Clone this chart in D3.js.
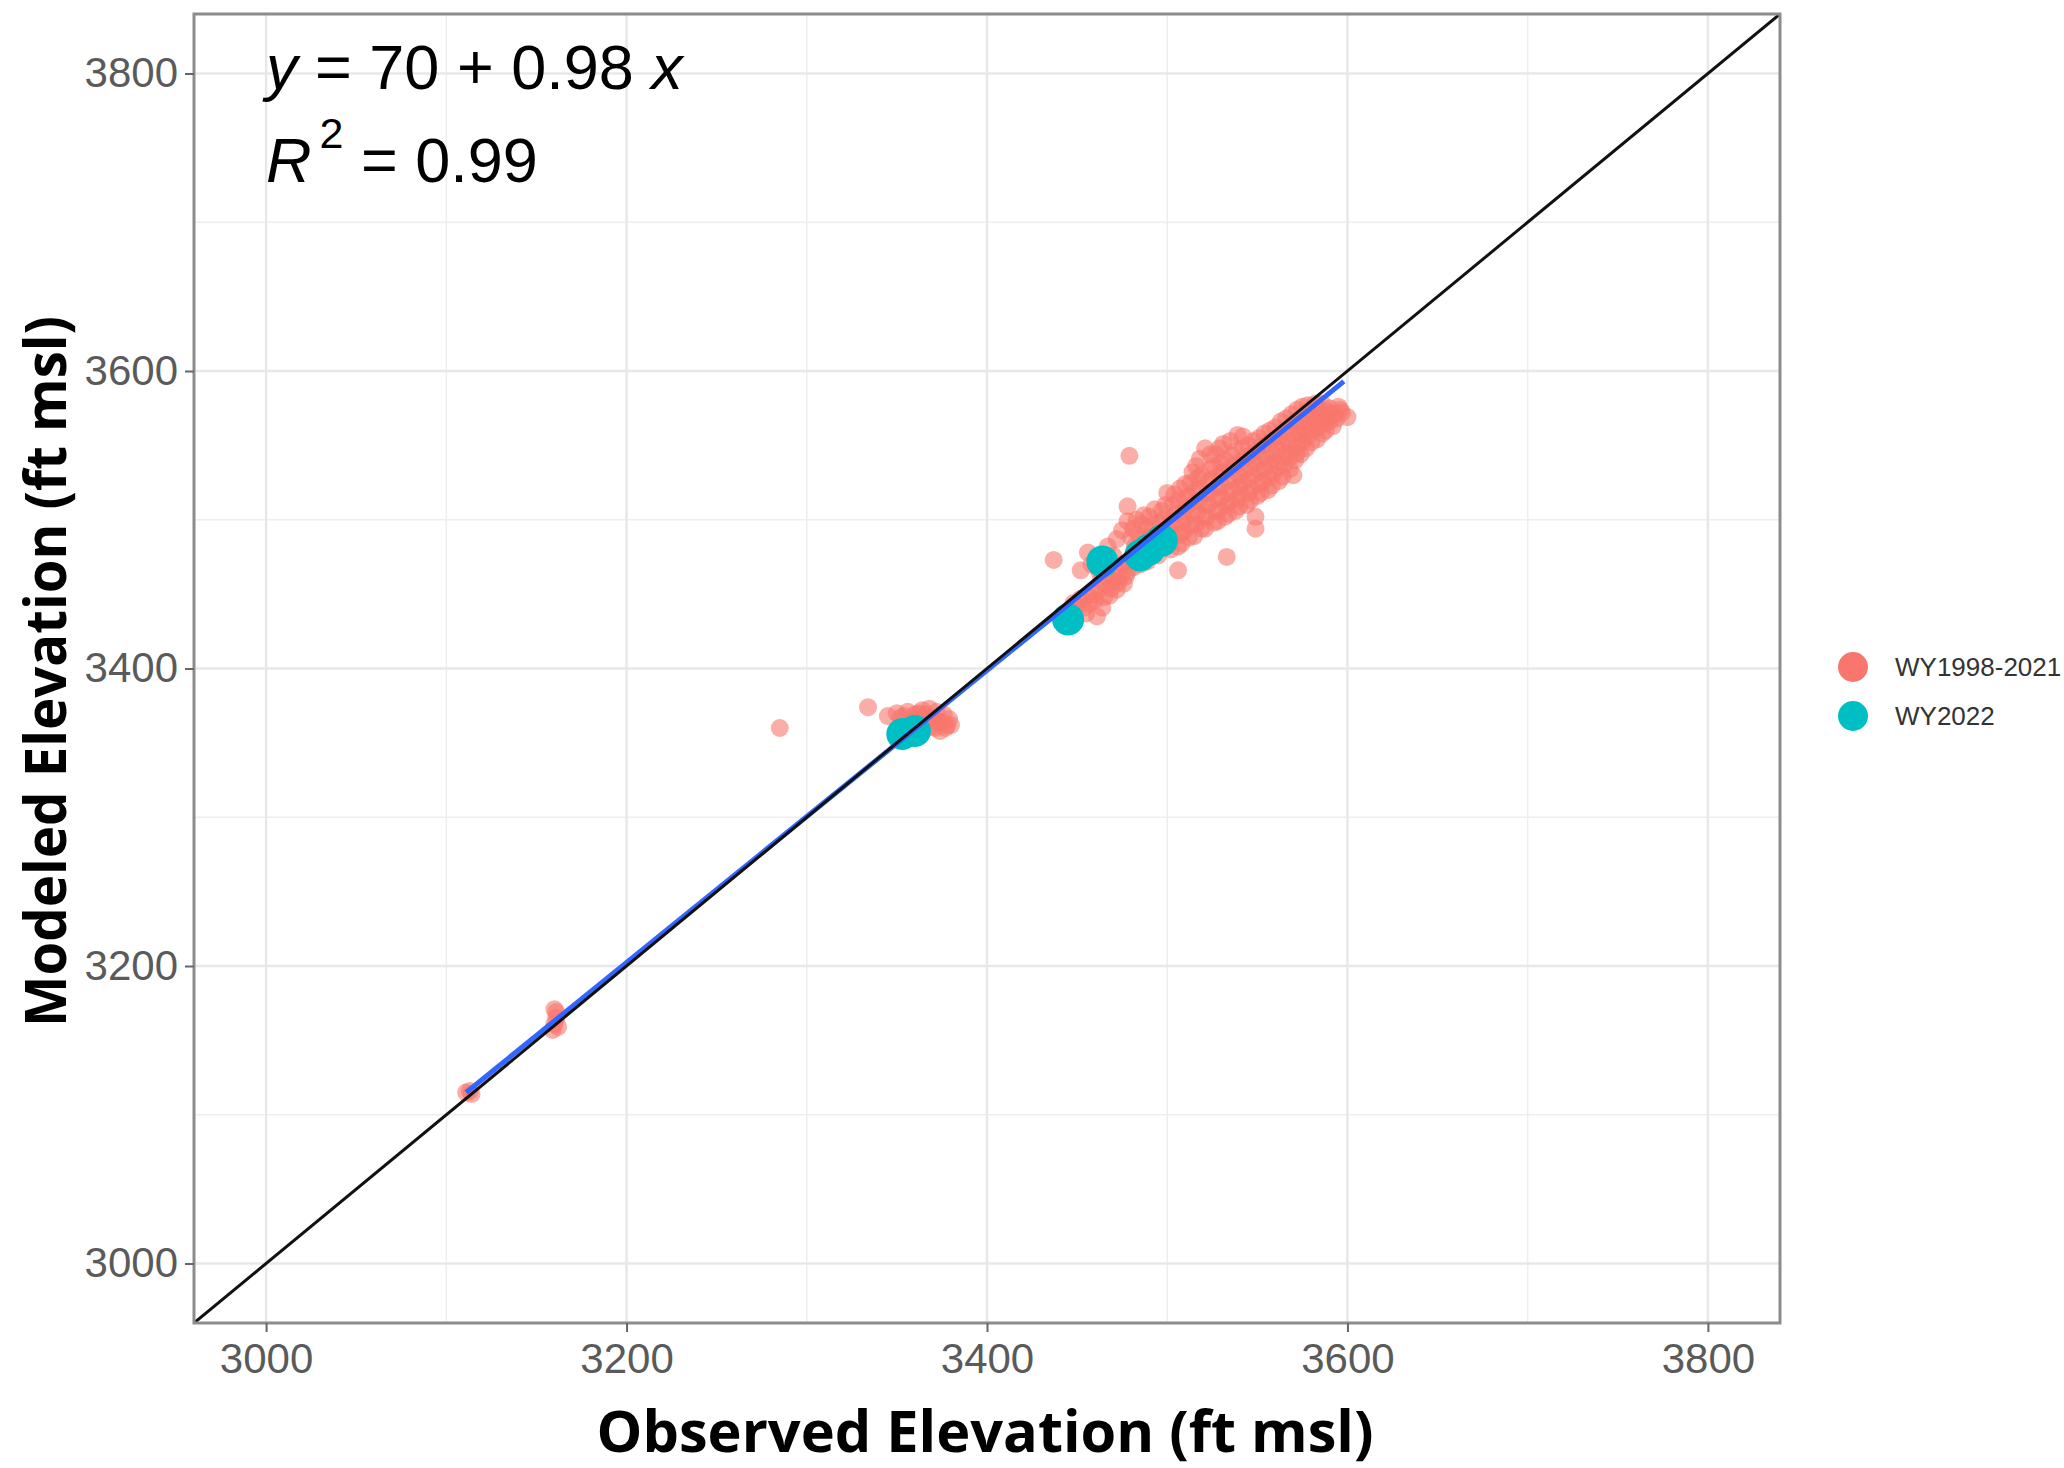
<!DOCTYPE html>
<html>
<head>
<meta charset="utf-8">
<script src="https://cdn.jsdelivr.net/npm/d3@7"></script>
<style>
  body { margin: 0; background: #fff; }
</style>
</head>
<body>
<div id="chart"></div>
<script>
// ---------------------------------------Data---------------------------------------
// [observed, modeled] elevation pairs (ft msl)
var wy9821 = [
  [3111, 3115], [3113, 3116], [3114, 3114],
  [3159, 3157], [3160, 3161], [3161, 3165], [3161, 3169], [3160, 3171], [3162, 3159],
  [3285, 3360], [3334, 3374], [3345, 3368],
  [3350, 3370], [3352, 3367], [3354, 3368], [3356, 3371], [3358, 3365], [3360, 3369],
  [3362, 3364], [3362, 3370], [3364, 3372], [3364, 3367], [3366, 3369], [3367, 3366],
  [3368, 3373], [3369, 3361], [3370, 3367], [3371, 3360], [3372, 3371], [3372, 3364],
  [3374, 3358], [3375, 3364], [3376, 3369], [3377, 3360], [3378, 3362], [3379, 3366],
  [3380, 3362],
  [3437, 3473], [3446, 3439], [3448, 3444], [3450, 3442], [3452, 3447], [3452, 3466],
  [3454, 3441], [3455, 3437], [3456, 3449], [3456, 3478], [3457, 3444], [3458, 3470],
  [3459, 3450], [3460, 3446], [3461, 3435], [3462, 3453], [3462, 3466], [3463, 3459],
  [3464, 3441], [3465, 3448], [3466, 3456], [3467, 3462], [3467, 3482], [3468, 3449],
  [3469, 3454], [3470, 3459], [3470, 3476], [3471, 3466], [3472, 3453], [3472, 3487],
  [3473, 3458], [3474, 3462], [3475, 3470], [3475, 3493], [3476, 3457], [3477, 3462],
  [3478, 3465], [3478, 3499], [3478, 3509], [3479, 3472], [3479, 3543],
  [3480, 3488], [3481, 3468], [3481, 3494], [3482, 3482], [3483, 3474], [3483, 3500],
  [3484, 3490], [3485, 3470], [3485, 3480], [3486, 3497], [3487, 3503], [3488, 3486],
  [3489, 3472], [3489, 3494], [3490, 3480], [3490, 3502], [3491, 3488], [3492, 3496],
  [3493, 3507], [3494, 3480], [3494, 3490],
  [3495, 3476], [3496, 3484], [3496, 3498], [3497, 3492], [3497, 3506], [3498, 3500],
  [3499, 3510], [3500, 3484], [3500, 3518], [3501, 3492], [3502, 3480], [3502, 3500],
  [3503, 3488], [3503, 3510], [3504, 3496], [3504, 3517], [3505, 3504], [3506, 3466],
  [3506, 3482], [3506, 3513], [3507, 3490], [3507, 3521],
  [3508, 3484], [3508, 3498], [3509, 3492], [3509, 3506], [3510, 3500], [3510, 3514],
  [3510, 3524], [3511, 3508], [3512, 3488], [3512, 3516], [3513, 3496], [3513, 3525],
  [3514, 3504], [3514, 3532], [3515, 3489], [3515, 3512], [3516, 3497], [3516, 3520],
  [3516, 3536], [3517, 3505], [3517, 3528], [3518, 3513], [3518, 3521], [3518, 3541],
  [3519, 3494], [3519, 3530], [3520, 3502], [3521, 3494], [3521, 3510], [3521, 3548],
  [3522, 3502], [3522, 3518], [3523, 3510], [3523, 3526], [3524, 3518], [3524, 3534],
  [3524, 3544], [3525, 3527], [3526, 3498], [3526, 3536], [3527, 3506], [3527, 3544],
  [3528, 3499], [3528, 3514], [3528, 3522], [3529, 3507], [3529, 3530], [3529, 3548],
  [3530, 3515], [3530, 3523], [3530, 3538], [3531, 3532], [3531, 3551], [3532, 3502],
  [3532, 3540], [3533, 3475], [3533, 3510], [3533, 3518],
  [3534, 3504], [3534, 3526], [3535, 3512], [3535, 3534], [3535, 3553], [3536, 3520],
  [3536, 3543], [3537, 3528], [3538, 3506], [3538, 3537], [3538, 3546], [3539, 3514],
  [3539, 3557], [3540, 3509], [3540, 3522], [3540, 3530], [3541, 3517], [3541, 3539],
  [3542, 3525], [3542, 3548], [3542, 3556], [3543, 3533], [3544, 3510], [3544, 3542],
  [3545, 3518], [3545, 3527], [3545, 3550], [3546, 3513], [3546, 3535], [3547, 3521],
  [3547, 3544],
  [3548, 3530], [3548, 3553], [3549, 3494], [3549, 3502], [3549, 3538], [3550, 3516],
  [3550, 3546], [3551, 3524], [3551, 3533], [3551, 3555], [3552, 3518], [3552, 3541],
  [3553, 3526], [3553, 3550], [3554, 3534], [3554, 3558], [3555, 3542], [3556, 3520],
  [3556, 3528], [3556, 3551], [3557, 3537], [3557, 3560], [3558, 3523], [3558, 3545],
  [3559, 3531], [3559, 3554], [3560, 3539], [3560, 3562], [3561, 3547], [3562, 3526],
  [3562, 3535], [3562, 3556], [3563, 3543], [3563, 3566],
  [3564, 3529], [3564, 3551], [3565, 3537], [3565, 3560], [3566, 3545], [3566, 3568],
  [3567, 3553], [3568, 3534], [3568, 3542], [3568, 3562], [3569, 3550], [3569, 3571],
  [3570, 3530], [3570, 3558], [3571, 3540], [3571, 3566], [3572, 3545], [3572, 3549],
  [3572, 3574], [3573, 3558], [3574, 3544], [3574, 3567], [3575, 3552], [3575, 3558],
  [3575, 3576], [3576, 3561],
  [3577, 3548], [3577, 3569], [3578, 3556], [3578, 3577], [3579, 3564], [3580, 3552],
  [3580, 3572], [3581, 3560], [3581, 3569], [3582, 3566], [3582, 3578], [3583, 3554],
  [3584, 3562], [3584, 3575], [3585, 3570], [3586, 3558], [3586, 3578], [3587, 3565],
  [3588, 3560], [3588, 3573], [3589, 3568], [3590, 3566], [3590, 3575], [3591, 3571],
  [3592, 3563], [3593, 3571], [3594, 3568], [3595, 3576], [3596, 3574], [3597, 3572],
  [3600, 3569]
];
var wy2022 = [
  [3353, 3356], [3360, 3358],
  [3445, 3433], [3464, 3472], [3485, 3476], [3490, 3480], [3497, 3486]
];

var seriesNames = ["WY1998-2021", "WY2022"];
var seriesColors = ["#F8766D", "#00BFC4"];

// fitted line end points (observed, modeled)
var fitX = [3111, 3598];
var fitY = [3115, 3593];

var majorTicks = [3000, 3200, 3400, 3600, 3800];
var minorTicks = [3100, 3300, 3500, 3700];
var axisDomain = [2960, 3840];

// ---------------------------------------Layout---------------------------------------
var chart = {width: 2064, height: 1468};
var panel = {left: 194, top: 14, right: 1780, bottom: 1323};

var x = d3.scaleLinear().domain(axisDomain).range([panel.left, panel.right]);
var y = d3.scaleLinear().domain(axisDomain).range([panel.bottom, panel.top]);

var svg = d3.select("#chart").append("svg")
    .attr("width", chart.width)
    .attr("height", chart.height)
    .style("display", "block");

svg.append("rect").attr("width", chart.width).attr("height", chart.height).attr("fill", "#fff");

svg.append("clipPath").attr("id", "clip")
  .append("rect")
    .attr("x", panel.left).attr("y", panel.top)
    .attr("width", panel.right - panel.left)
    .attr("height", panel.bottom - panel.top);

// grid
var grid = svg.append("g");
grid.selectAll(".vminor").data(minorTicks).enter().append("line")
    .attr("x1", d => x(d)).attr("x2", d => x(d))
    .attr("y1", panel.top).attr("y2", panel.bottom)
    .attr("stroke", "#eeeeee").attr("stroke-width", 1.5);
grid.selectAll(".hminor").data(minorTicks).enter().append("line")
    .attr("y1", d => y(d)).attr("y2", d => y(d))
    .attr("x1", panel.left).attr("x2", panel.right)
    .attr("stroke", "#eeeeee").attr("stroke-width", 1.5);
grid.selectAll(".vmajor").data(majorTicks).enter().append("line")
    .attr("x1", d => x(d)).attr("x2", d => x(d))
    .attr("y1", panel.top).attr("y2", panel.bottom)
    .attr("stroke", "#e8e8e8").attr("stroke-width", 2.5);
grid.selectAll(".hmajor").data(majorTicks).enter().append("line")
    .attr("y1", d => y(d)).attr("y2", d => y(d))
    .attr("x1", panel.left).attr("x2", panel.right)
    .attr("stroke", "#e8e8e8").attr("stroke-width", 2.5);

// points
var plot = svg.append("g").attr("clip-path", "url(#clip)");
plot.selectAll(".p0").data(wy9821).enter().append("circle")
    .attr("cx", d => x(d[0])).attr("cy", d => y(d[1]))
    .attr("r", 9)
    .attr("fill", seriesColors[0])
    .attr("fill-opacity", 0.6);
plot.selectAll(".p1").data(wy2022).enter().append("circle")
    .attr("cx", d => x(d[0])).attr("cy", d => y(d[1]))
    .attr("r", 16)
    .attr("fill", seriesColors[1]);

// fitted line, then 1:1 line
plot.append("line")
    .attr("x1", x(fitX[0])).attr("y1", y(fitY[0]))
    .attr("x2", x(fitX[1])).attr("y2", y(fitY[1]))
    .attr("stroke", "#3366FF").attr("stroke-width", 5);
plot.append("line")
    .attr("x1", x(axisDomain[0])).attr("y1", y(axisDomain[0]))
    .attr("x2", x(axisDomain[1])).attr("y2", y(axisDomain[1]))
    .attr("stroke", "#111").attr("stroke-width", 3);

// panel border
svg.append("rect")
    .attr("x", panel.left).attr("y", panel.top)
    .attr("width", panel.right - panel.left)
    .attr("height", panel.bottom - panel.top)
    .attr("fill", "none").attr("stroke", "#8c8c8c").attr("stroke-width", 3);

// axes
function style_axis(g) {
  g.select(".domain").remove();
  g.selectAll(".tick line").attr("stroke", "#666").attr("stroke-width", 2);
  g.selectAll(".tick text")
    .attr("fill", "#5a5a5a")
    .style("font-family", "'Liberation Sans', Arial, sans-serif")
    .style("font-size", "42px");
}

svg.append("g")
    .attr("transform", "translate(0," + panel.bottom + ")")
    .call(d3.axisBottom(x).tickValues(majorTicks).tickSize(9).tickPadding(11).tickFormat(d3.format("d")))
    .call(style_axis);

svg.append("g")
    .attr("transform", "translate(" + panel.left + ",0)")
    .call(d3.axisLeft(y).tickValues(majorTicks).tickSize(9).tickPadding(7).tickFormat(d3.format("d")))
    .call(style_axis);

// axis titles
svg.append("text")
    .attr("x", (panel.left + panel.right) / 2 - 2)
    .attr("y", 1452)
    .attr("text-anchor", "middle")
    .attr("textLength", 777)
    .attr("lengthAdjust", "spacingAndGlyphs")
    .style("font-family", "'Open Sans', sans-serif")
    .style("font-weight", "bold")
    .style("font-size", "58px")
    .text("Observed Elevation (ft msl)");

svg.append("text")
    .attr("transform", "translate(66," + ((panel.top + panel.bottom) / 2 + 3) + ") rotate(-90)")
    .attr("text-anchor", "middle")
    .attr("textLength", 711)
    .attr("lengthAdjust", "spacingAndGlyphs")
    .style("font-family", "'Open Sans', sans-serif")
    .style("font-weight", "bold")
    .style("font-size", "58px")
    .text("Modeled Elevation (ft msl)");

// equation label
var eq = svg.append("g")
    .style("font-family", "'Liberation Sans', Arial, sans-serif")
    .style("font-size", "63px")
    .attr("fill", "#000");

var line1 = eq.append("text").attr("x", 266).attr("y", 89);
line1.append("tspan").style("font-style", "italic").text("y");
line1.append("tspan").text(" = 70 + 0.98 ");
line1.append("tspan").style("font-style", "italic").text("x");

var line2 = eq.append("text").attr("x", 266).attr("y", 182);
line2.append("tspan").style("font-style", "italic").text("R");
line2.append("tspan").attr("dx", 8).attr("dy", -34).style("font-size", "43px").text("2");
line2.append("tspan").attr("dy", 34).text(" = 0.99");

// legend
var legend = svg.append("g")
    .style("font-family", "'Liberation Sans', Arial, sans-serif")
    .style("font-size", "26px")
    .selectAll("g")
    .data(seriesNames)
    .enter().append("g")
    .attr("transform", (d, i) => "translate(1853," + (667 + i * 49) + ")");

legend.append("circle")
    .attr("r", 15)
    .attr("fill", (d, i) => seriesColors[i]);

legend.append("text")
    .attr("x", 42)
    .attr("y", 9)
    .attr("fill", "#333")
    .text(d => d);
</script>
</body>
</html>
